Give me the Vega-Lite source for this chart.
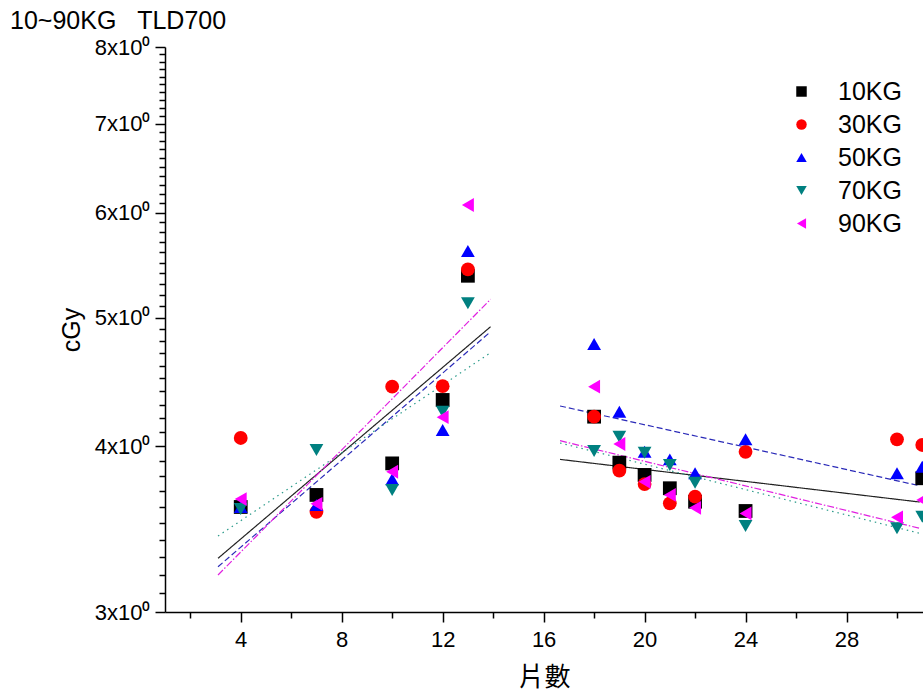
{
  "$schema": "https://vega.github.io/schema/vega-lite/v6.json",
  "width": 758,
  "height": 565,
  "autosize": {"type": "none"},
  "padding": {"left": 165, "top": 47, "right": 0, "bottom": 84},
  "background": "white",
  "config": {"view": {"stroke": null}, "font": "Liberation Sans"},
  "title": {"text": "10~90KG\u00a0\u00a0\u00a0TLD700", "anchor": "start", "frame": "group", "fontSize": 25, "fontWeight": "normal", "font": "Liberation Sans", "color": "black", "dx": -155, "offset": 2},
  "datasets": {
    "pts": [
      {"x": 4, "y": 3.60, "series": "10KG"},
      {"x": 7, "y": 3.676, "series": "10KG"},
      {"x": 10, "y": 3.883, "series": "10KG"},
      {"x": 12, "y": 4.335, "series": "10KG"},
      {"x": 13, "y": 5.378, "series": "10KG"},
      {"x": 18, "y": 4.211, "series": "10KG"},
      {"x": 19, "y": 3.888, "series": "10KG"},
      {"x": 20, "y": 3.806, "series": "10KG"},
      {"x": 21, "y": 3.719, "series": "10KG"},
      {"x": 22, "y": 3.633, "series": "10KG"},
      {"x": 24, "y": 3.575, "series": "10KG"},
      {"x": 31, "y": 3.784, "series": "10KG"},
      {"x": 4, "y": 4.058, "series": "30KG"},
      {"x": 7, "y": 3.57, "series": "30KG"},
      {"x": 10, "y": 4.436, "series": "30KG"},
      {"x": 12, "y": 4.44, "series": "30KG"},
      {"x": 13, "y": 5.438, "series": "30KG"},
      {"x": 18, "y": 4.211, "series": "30KG"},
      {"x": 19, "y": 3.834, "series": "30KG"},
      {"x": 20, "y": 3.746, "series": "30KG"},
      {"x": 21, "y": 3.623, "series": "30KG"},
      {"x": 22, "y": 3.665, "series": "30KG"},
      {"x": 24, "y": 3.962, "series": "30KG"},
      {"x": 30, "y": 4.049, "series": "30KG"},
      {"x": 31, "y": 4.009, "series": "30KG"},
      {"x": 4, "y": 3.60, "series": "50KG"},
      {"x": 7, "y": 3.612, "series": "50KG"},
      {"x": 10, "y": 3.777, "series": "50KG"},
      {"x": 12, "y": 4.115, "series": "50KG"},
      {"x": 13, "y": 5.614, "series": "50KG"},
      {"x": 18, "y": 4.777, "series": "50KG"},
      {"x": 19, "y": 4.247, "series": "50KG"},
      {"x": 20, "y": 3.962, "series": "50KG"},
      {"x": 21, "y": 3.91, "series": "50KG"},
      {"x": 22, "y": 3.817, "series": "50KG"},
      {"x": 24, "y": 4.049, "series": "50KG"},
      {"x": 30, "y": 3.817, "series": "50KG"},
      {"x": 31, "y": 3.861, "series": "50KG"},
      {"x": 4, "y": 3.587, "series": "70KG"},
      {"x": 7, "y": 3.974, "series": "70KG"},
      {"x": 10, "y": 3.708, "series": "70KG"},
      {"x": 12, "y": 4.247, "series": "70KG"},
      {"x": 13, "y": 5.127, "series": "70KG"},
      {"x": 18, "y": 3.967, "series": "70KG"},
      {"x": 19, "y": 4.067, "series": "70KG"},
      {"x": 20, "y": 3.955, "series": "70KG"},
      {"x": 21, "y": 3.872, "series": "70KG"},
      {"x": 22, "y": 3.755, "series": "70KG"},
      {"x": 24, "y": 3.483, "series": "70KG"},
      {"x": 30, "y": 3.469, "series": "70KG"},
      {"x": 31, "y": 3.54, "series": "70KG"},
      {"x": 4, "y": 3.65, "series": "90KG"},
      {"x": 7, "y": 3.62, "series": "90KG"},
      {"x": 10, "y": 3.827, "series": "90KG"},
      {"x": 12, "y": 4.207, "series": "90KG"},
      {"x": 13, "y": 6.081, "series": "90KG"},
      {"x": 18, "y": 4.436, "series": "90KG"},
      {"x": 19, "y": 4.016, "series": "90KG"},
      {"x": 20, "y": 3.761, "series": "90KG"},
      {"x": 21, "y": 3.676, "series": "90KG"},
      {"x": 22, "y": 3.595, "series": "90KG"},
      {"x": 24, "y": 3.56, "series": "90KG"},
      {"x": 30, "y": 3.536, "series": "90KG"},
      {"x": 31, "y": 3.644, "series": "90KG"}
    ],
    "fits": [
      {"x": 3.1, "y": 3.293, "series": "10KG", "seg": "L10"},
      {"x": 13.9, "y": 4.923, "series": "10KG", "seg": "L10"},
      {"x": 3.1, "y": 3.245, "series": "50KG", "seg": "L50"},
      {"x": 13.9, "y": 4.88, "series": "50KG", "seg": "L50"},
      {"x": 3.1, "y": 3.423, "series": "70KG", "seg": "L70"},
      {"x": 13.9, "y": 4.706, "series": "70KG", "seg": "L70"},
      {"x": 3.1, "y": 3.199, "series": "90KG", "seg": "L90"},
      {"x": 13.9, "y": 5.163, "series": "90KG", "seg": "L90"},
      {"x": 16.65, "y": 3.91, "series": "10KG", "seg": "R10"},
      {"x": 30.9, "y": 3.631, "series": "10KG", "seg": "R10"},
      {"x": 16.65, "y": 4.29, "series": "50KG", "seg": "R50"},
      {"x": 30.9, "y": 3.735, "series": "50KG", "seg": "R50"},
      {"x": 16.65, "y": 4.023, "series": "70KG", "seg": "R70"},
      {"x": 30.9, "y": 3.439, "series": "70KG", "seg": "R70"},
      {"x": 16.65, "y": 4.039, "series": "90KG", "seg": "R90"},
      {"x": 30.9, "y": 3.469, "series": "90KG", "seg": "R90"}
    ]
  },
  "encoding": {
    "x": {
      "field": "x", "type": "quantitative",
      "scale": {"domain": [1, 31.03], "nice": false, "zero": false},
      "axis": {
        "values": [2, 4, 6, 8, 10, 12, 14, 16, 18, 20, 22, 24, 26, 28, 30],
        "labelExpr": "datum.value % 4 === 0 ? datum.label : ''",
        "tickSize": {"condition": {"test": "datum.value % 4 === 0", "value": 10}, "value": 6},
        "title": "片數", "titleFont": "Noto Sans CJK TC", "titleFontSize": 26, "titleFontWeight": "normal", "titleColor": "black", "titlePadding": 14,
        "labelFontSize": 22, "labelFont": "Liberation Sans", "labelColor": "black", "labelPadding": 7, "labelOverlap": false,
        "grid": false, "domainColor": "black", "domainWidth": 1.5, "tickColor": "black", "tickWidth": 1.5
      }
    },
    "y": {
      "field": "y", "type": "quantitative",
      "scale": {"type": "log", "domain": [3, 8], "nice": false, "zero": false},
      "axis": {
        "values": [3, 3.1, 3.2, 3.3, 3.4, 3.5, 3.6, 3.7, 3.8, 3.9, 4, 4.1, 4.2, 4.3, 4.4, 4.5, 4.6, 4.7, 4.8, 4.9, 5, 5.1, 5.2, 5.3, 5.4, 5.5, 5.6, 5.7, 5.8, 5.9, 6, 6.1, 6.2, 6.3, 6.4, 6.5, 6.6, 6.7, 6.8, 6.9, 7, 7.1, 7.2, 7.3, 7.4, 7.5, 7.6, 7.7, 7.8, 7.9, 8],
        "labelExpr": "datum.value % 1 === 0 ? datum.value + 'x10⁰' : ''",
        "tickSize": {"condition": {"test": "datum.value % 1 === 0", "value": 10}, "value": 6},
        "title": "cGy", "titleFont": "Liberation Sans", "titleFontSize": 25, "titleFontWeight": "normal", "titleColor": "black", "titlePadding": 10,
        "labelFontSize": 22, "labelFont": "Liberation Sans", "labelColor": "black", "labelPadding": 5, "labelOverlap": false,
        "grid": false, "domainColor": "black", "domainWidth": 1.5, "tickColor": "black", "tickWidth": 1.5
      }
    }
  },
  "layer": [
    {
      "data": {"name": "fits"},
      "mark": {"type": "line", "clip": true, "strokeWidth": 1.2},
      "encoding": {
        "detail": {"field": "seg", "type": "nominal"},
        "stroke": {"field": "series", "type": "nominal", "legend": null,
          "scale": {"domain": ["10KG", "50KG", "70KG", "90KG"], "range": ["#222222", "#2a2ab8", "#2a9a8a", "#e020e0"]}},
        "strokeDash": {"field": "series", "type": "nominal", "legend": null,
          "scale": {"domain": ["10KG", "50KG", "70KG", "90KG"], "range": [[1, 0], [6, 3], [1.5, 4], [7, 2, 1.5, 2]]}}
      }
    },
    {
      "data": {"name": "pts"},
      "mark": {"type": "point", "filled": true, "size": 190, "opacity": 1, "clip": true},
      "encoding": {
        "color": {"field": "series", "type": "nominal",
          "scale": {"domain": ["10KG", "30KG", "50KG", "70KG", "90KG"], "range": ["#000000", "#ff0000", "#0000ff", "#008080", "#ff00ff"]},
          "legend": {"title": null, "orient": "none", "legendX": 624, "legendY": 32, "labelFontSize": 25, "labelFont": "Liberation Sans", "labelColor": "black", "symbolSize": 110, "rowPadding": 7, "labelOffset": 24, "symbolStrokeWidth": 0}},
        "shape": {"field": "series", "type": "nominal",
          "scale": {"domain": ["10KG", "30KG", "50KG", "70KG", "90KG"], "range": ["square", "circle", "triangle-up", "triangle-down", "triangle-left"]},
          "legend": {"title": null, "orient": "none", "legendX": 624, "legendY": 32, "labelFontSize": 25, "labelFont": "Liberation Sans", "labelColor": "black", "symbolSize": 110, "rowPadding": 7, "labelOffset": 24, "symbolStrokeWidth": 0}}
      }
    }
  ]
}
